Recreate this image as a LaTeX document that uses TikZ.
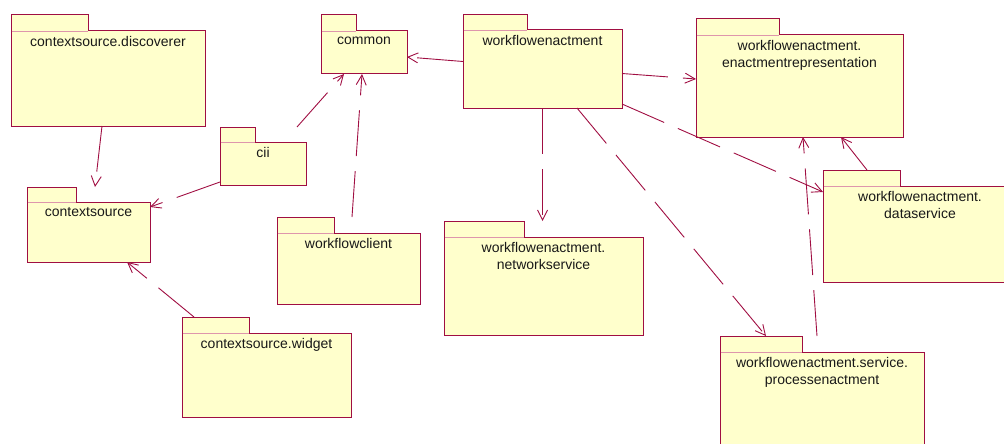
\documentclass[tikz,border=0pt]{standalone}
\usepackage{fontspec}
\setmainfont{Liberation Sans}
\usetikzlibrary{arrows.meta,fit}

\definecolor{pkgborder}{RGB}{160,14,66}
\definecolor{pkgfill}{RGB}{255,255,204}
\definecolor{pkgrule}{RGB}{222,150,172}

\tikzset{
  pkgbounds/.style={inner sep=0pt, outer sep=0pt, draw=none},
  pkgoutline/.style={draw=pkgborder, fill=pkgfill, line width=1pt, line join=miter},
  pkgdivider/.style={draw=pkgrule, line width=0.8pt},
  pkglabel/.style={anchor=north, inner sep=0pt, align=center, text=black!90,
    font=\fontsize{14}{17}\selectfont},
  dependency/.style={draw=pkgborder, line width=0.9pt,
    dash pattern=on 46pt off 15pt,
    -{Straight Barb[length=10pt,width=10pt,line width=0.9pt]}},
}

% UML package: name, left, top, right, bottom, tab right, tab bottom, label
\newcommand{\umlpackage}[8]{%
  \node[pkgbounds, fit={(#2,#3) (#4,#5)}] (#1) {};
  \draw[pkgoutline] (#2,#3) -- (#6,#3) -- (#6,#7) -- (#4,#7) -- (#4,#5) -- (#2,#5) -- cycle;
  \draw[pkgdivider] ({#2+0.5},#7) -- ({#6-0.5},#7);
  \node[pkglabel] (#1-label) at ({(#2+#4)/2},{#7+5.5}) {#8};
}

\begin{document}
\begin{tikzpicture}[x=1pt,y=-1pt]
\useasboundingbox (0,0) rectangle (1004,444);

% packages
\umlpackage{disc}{11}{15}{205}{126}{88}{31}{contextsource.discoverer}
\umlpackage{cs}{27}{187}{150}{262}{76}{202}{contextsource}
\umlpackage{cii}{220}{127}{306}{185}{255}{142}{cii}
\umlpackage{common}{321}{15}{407}{74}{356}{31}{common}
\umlpackage{wfe}{463}{15}{622}{108}{527}{30}{workflowenactment}
\umlpackage{er}{696}{19}{903}{137}{779}{35}{workflowenactment.\\enactmentrepresentation}
\umlpackage{ds}{823}{170}{1017}{282}{900}{186}{workflowenactment.\\dataservice}
\umlpackage{wfc}{277}{217}{420}{304}{334}{233}{workflowclient}
\umlpackage{widget}{182}{317}{351}{417}{249}{333}{contextsource.widget}
\umlpackage{ns}{444}{221}{643}{335}{524}{237}{workflowenactment.\\networkservice}
\umlpackage{pe}{720}{336}{924}{470}{802}{352}{workflowenactment.service.\\processenactment}

% dependencies
\draw[dependency] ([xshift=-6pt]disc.south) -- ([xshift=6.5pt]cs.north);
\draw[dependency] ([yshift=3pt]cii.south west) -- ([yshift=-20pt]cs.north east);
\draw[dependency] ([xshift=12pt]widget.north west) -- ([xshift=-23pt]cs.south east);
\draw[dependency] ([xshift=-9pt]cii.north east) -- ([xshift=-20pt]common.south);
\draw[dependency] ([xshift=3.5pt]wfc.north) -- ([xshift=-2pt]common.south);
\draw[dependency] (wfe.west) -- ([yshift=-12.5pt]common.east);
\draw[dependency] ([yshift=-12pt]wfe.east) -- ([yshift=-1pt]er.west);
\draw[dependency] ([yshift=4pt]wfe.south east) -- ([yshift=-22pt]ds.north west);
\draw[dependency] (wfe.south) -- (wfe.south |- ns.north);
\draw[dependency] ([xshift=34.5pt]wfe.south) -- ([xshift=-56pt]pe.north);
\draw[dependency] ([xshift=44pt]ds.north west) -- ([xshift=41.5pt]er.south);
\draw[dependency] ([xshift=-5pt]pe.north) -- ([xshift=3.5pt]er.south);
\end{tikzpicture}
\end{document}
